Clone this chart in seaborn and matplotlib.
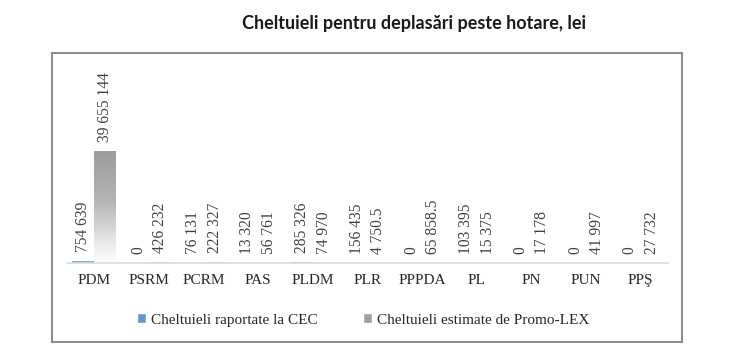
import numpy as np
import pandas as pd
import matplotlib
matplotlib.use("Agg")
import matplotlib.pyplot as plt
from matplotlib.patches import Patch, Rectangle
from matplotlib.colors import LinearSegmentedColormap
import seaborn as sns

title = "Cheltuieli pentru deplasări peste hotare, lei"
parties = ["PDM", "PSRM", "PCRM", "PAS", "PLDM", "PLR", "PPPDA", "PL", "PN", "PUN", "PPŞ"]
cec = [754639, 0, 76131, 13320, 285326, 156435, 0, 103395, 0, 0, 0]
promolex = [39655144, 426232, 222327, 56761, 74970, 4750.5, 65858.5, 15375, 17178, 41997, 27732]
series_names = ["Cheltuieli raportate la CEC", "Cheltuieli estimate de Promo-LEX"]

df = pd.DataFrame({
    "party": parties * 2,
    "value": cec + promolex,
    "series": [series_names[0]] * len(parties) + [series_names[1]] * len(parties),
})

sns.set_theme(style="white")
plt.rcParams["font.family"] = ["DejaVu Sans"]

blue = "#5b9bd5"
gray = "#a0a0a0"
serif = ["Liberation Serif", "DejaVu Serif"]

fig = plt.figure(figsize=(7.4, 3.58), dpi=100)
ax = fig.add_axes([67 / 740, 1 - 263 / 358, 601 / 740, 203 / 358])
sns.barplot(data=df, x="party", y="value", hue="series", palette=[blue, gray],
            width=0.8, legend=False, ax=ax, saturation=1)


def fmt(v):
    if float(v).is_integer():
        return f"{int(v):,}".replace(",", " ")
    return f"{v:,.1f}".replace(",", " ")


n = len(parties)
patches = list(ax.patches)
cmaps = [LinearSegmentedColormap.from_list("b", [(0, "#ffffff"), (0.3, "#a9c9e8"), (1, "#5b9bd5")]),
         LinearSegmentedColormap.from_list("g", [(0, "#ffffff"), (0.2, "#e6e6e6"), (0.55, "#b4b4b4"), (1, "#9c9c9c")])]
small_cols = ["#7aaee0", "#bdbdbd"]
grad = np.linspace(0, 1, 256).reshape(-1, 1)
for i, p in enumerate(patches[:2 * n]):
    s = i // n
    x0, w, h = p.get_x(), p.get_width(), p.get_height()
    if h > 5e6:
        im = ax.imshow(grad, cmap=cmaps[s], aspect="auto", origin="lower",
                       extent=[x0, x0 + w, 0, h], zorder=2)
        im.set_clip_path(p)
        p.set_facecolor("none")
        p.set_edgecolor("none")
    else:
        p.set_facecolor(small_cols[s])
        p.set_edgecolor("none")
    val = (cec if s == 0 else promolex)[i % n]
    ax.annotate(fmt(val), xy=(x0 + w / 2, h), xytext=(0, 9), textcoords="offset pixels",
                rotation=90, ha="center", va="bottom", fontsize=11.2,
                family=serif, color="#404040")
ax.set_xlim(-0.5, len(parties) - 0.5)
ax.set_ylim(0, 71.7e6)

for sp in ["top", "right", "left"]:
    ax.spines[sp].set_visible(False)
ax.spines["bottom"].set_color("#d9d9d9")
ax.spines["bottom"].set_linewidth(1.2)
ax.set_yticks([])
ax.set_xlabel("")
ax.set_ylabel("")
ax.tick_params(axis="x", length=0, pad=8)
for t in ax.get_xticklabels():
    t.set_family(serif)
    t.set_fontsize(11)
    t.set_color("#262626")

fig.text(414 / 740, 1 - 23 / 358, title, ha="center", va="center",
         fontsize=13, fontweight="bold", family="Lato", color="#1a1a1a")

fig.patches.append(Rectangle((51.5 / 740, 1 - 342 / 358), (682 - 51.5) / 740, (342 - 53) / 358,
                             transform=fig.transFigure, fill=False, edgecolor="#8c8c8c",
                             linewidth=1.5))

handles = [Patch(facecolor=blue), Patch(facecolor=gray)]
leg = fig.legend(handles, series_names, loc="center", bbox_to_anchor=(363 / 740, 1 - 320 / 358),
                 ncol=2, frameon=False, handlelength=0.6, handleheight=0.6, handletextpad=0.3,
                 columnspacing=3.0, prop={"family": serif, "size": 11})
for t in leg.get_texts():
    t.set_color("#262626")

fig.savefig("out.png", dpi=100)
